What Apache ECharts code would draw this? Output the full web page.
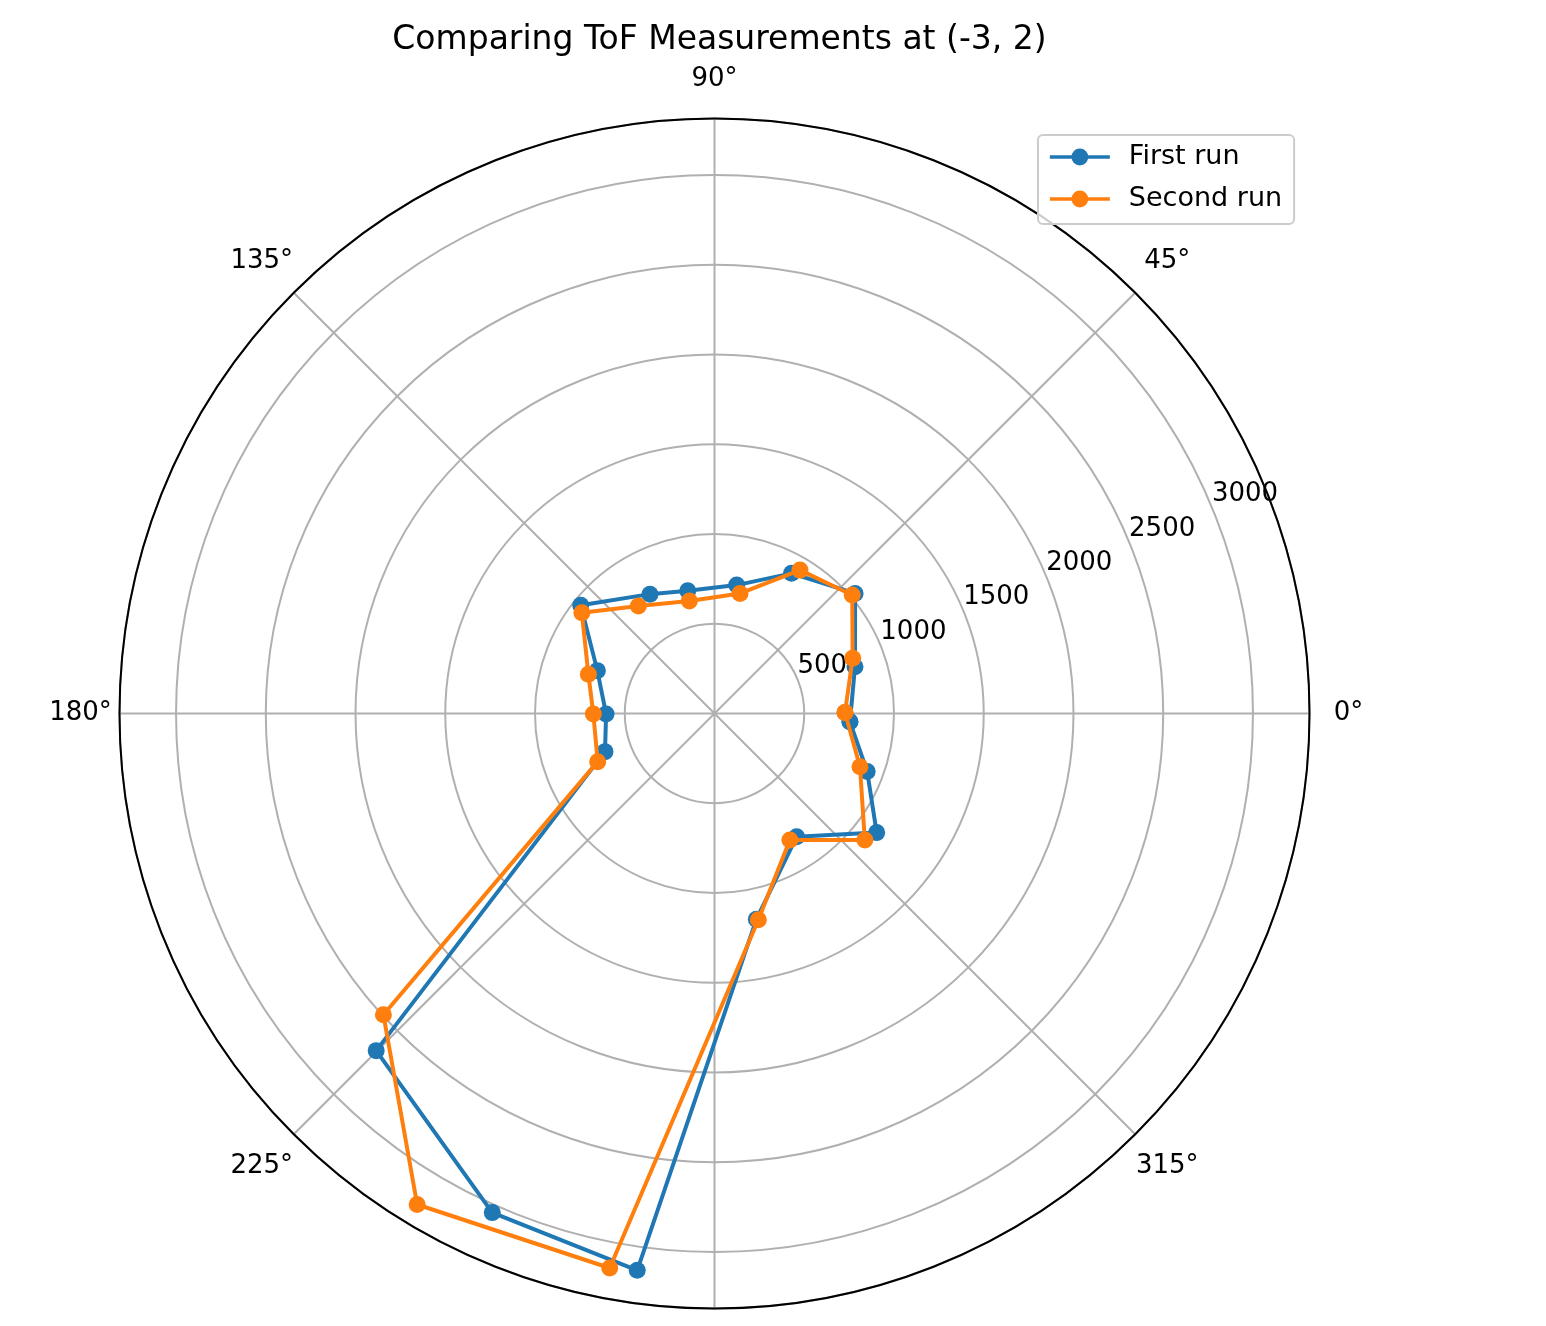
<!DOCTYPE html>
<html>
<head>
<meta charset="utf-8">
<title>Comparing ToF Measurements</title>
<script src="https://cdn.jsdelivr.net/npm/echarts@6/dist/echarts.min.js"></script>
<style>
	html, body {margin: 0; padding: 0; background: #fff;}
	#chart {width: 1546px; height: 1326px;}
</style>
</head>
<body>
<div id="chart"></div>
<script>
var firstRunDist = [756, 825, 1030, 891, 726, 700, 756, 959, 695, 604, 646, 2661, 3044, 3132, 1170, 825, 1121, 910];
var firstRunAngle = [356.5, 18.4, 40.5, 61.2, 80.2, 102.3, 118.4, 141.0, 159.9, 180.3, 199.2, 224.9, 246.0, 262.1, 281.5, 303.7, 323.7, 339.2];
var secondRunDist = [727, 829, 1012, 930, 684, 642, 734, 928, 736, 675, 704, 2494, 3198, 3144, 1175, 820, 1095, 863];
var secondRunAngle = [0.4, 21.8, 40.7, 59.2, 78.0, 102.6, 125.3, 142.8, 162.7, 180.2, 202.4, 222.3, 238.8, 259.3, 282.0, 300.8, 319.9, 339.9];
var radiusMax = 3315;
var radiusStep = 500;
var angleStep = 45;

var font = 'DejaVu Sans';

// build a closed loop of [r, theta] pairs
function loop(dist, angle) {
	var out = [];
	for (var i = 0; i < dist.length; i++) {
		out.push([dist[i], angle[i]]);
	}
	out.push([dist[0], angle[0]]);
	return out;
}

var chart = echarts.init(document.getElementById('chart'));
chart.setOption({
	animation: false,
	backgroundColor: '#fff',
	title: {
		text: 'Comparing ToF Measurements at (-3, 2)',
		left: 714.5,
		textAlign: 'center',
		top: 19,
		textStyle: {
			fontFamily: font,
			fontSize: 33,
			fontWeight: 'normal',
			color: '#000'
		}
	},
	legend: {
		data: ['First run', 'Second run'],
		orient: 'vertical',
		left: 1038,
		top: 135,
		padding: [7, 12, 10, 10],
		itemWidth: 60,
		itemHeight: 21,
		itemGap: 12,
		borderColor: '#cccccc',
		borderWidth: 2,
		borderRadius: 5,
		backgroundColor: 'rgba(255,255,255,0.8)',
		lineStyle: {width: 3.7},
		textStyle: {
			fontFamily: font,
			fontSize: 27,
			lineHeight: 30,
			color: '#000',
			padding: [0, 0, 0, 14]
		}
	},
	polar: [
		{center: [714.5, 713.5], radius: 595},
		{center: [714.5, 713.5], radius: 595}
	],
	angleAxis: [
		{
			polarIndex: 0,
			type: 'value',
			min: 0,
			max: 360,
			interval: angleStep,
			startAngle: 0,
			clockwise: false,
			z: 1,
			axisLine: {lineStyle: {color: '#000', width: 2}},
			axisTick: {show: false},
			axisLabel: {
				margin: 24,
				fontFamily: font,
				fontSize: 26,
				color: '#000',
				formatter: function (v) {
					return v === 360 ? '' : '{a|' + v + '°}';
				},
				rich: {
					a: {
						width: 30,
						height: 30,
						align: 'center',
						verticalAlign: 'middle',
						fontFamily: font,
						fontSize: 26,
						color: '#000'
					}
				}
			},
			splitLine: {lineStyle: {color: '#b0b0b0', width: 2}}
		},
		{
			polarIndex: 1,
			type: 'value',
			min: 0,
			max: 360,
			startAngle: 22.5,
			clockwise: false,
			axisLine: {show: false},
			axisTick: {show: false},
			axisLabel: {show: false},
			splitLine: {show: false}
		}
	],
	radiusAxis: [
		{
			polarIndex: 0,
			type: 'value',
			min: 0,
			max: radiusMax,
			interval: radiusStep,
			z: 0,
			axisLine: {show: false},
			axisTick: {show: false},
			axisLabel: {show: false},
			splitLine: {lineStyle: {color: '#b0b0b0', width: 2}}
		},
		{
			polarIndex: 1,
			type: 'value',
			min: 0,
			max: radiusMax,
			interval: radiusStep,
			axisLine: {show: false},
			axisTick: {show: false},
			splitLine: {show: false},
			axisLabel: {
				margin: 0,
				align: 'left',
				verticalAlign: 'bottom',
				fontFamily: font,
				fontSize: 26,
				color: '#000',
				formatter: function (v) {
					return (v > 0 && v % radiusStep === 0) ? String(v) : '';
				}
			}
		}
	],
	series: [
		{
			name: 'First run',
			type: 'line',
			coordinateSystem: 'polar',
			polarIndex: 0,
			symbol: 'circle',
			symbolSize: 17,
			z: 3,
			itemStyle: {color: '#1f77b4'},
			lineStyle: {color: '#1f77b4', width: 4},
			data: loop(firstRunDist, firstRunAngle)
		},
		{
			name: 'Second run',
			type: 'line',
			coordinateSystem: 'polar',
			polarIndex: 0,
			symbol: 'circle',
			symbolSize: 17,
			z: 4,
			itemStyle: {color: '#ff7f0e'},
			lineStyle: {color: '#ff7f0e', width: 4},
			data: loop(secondRunDist, secondRunAngle)
		}
	]
});
</script>
</body>
</html>
